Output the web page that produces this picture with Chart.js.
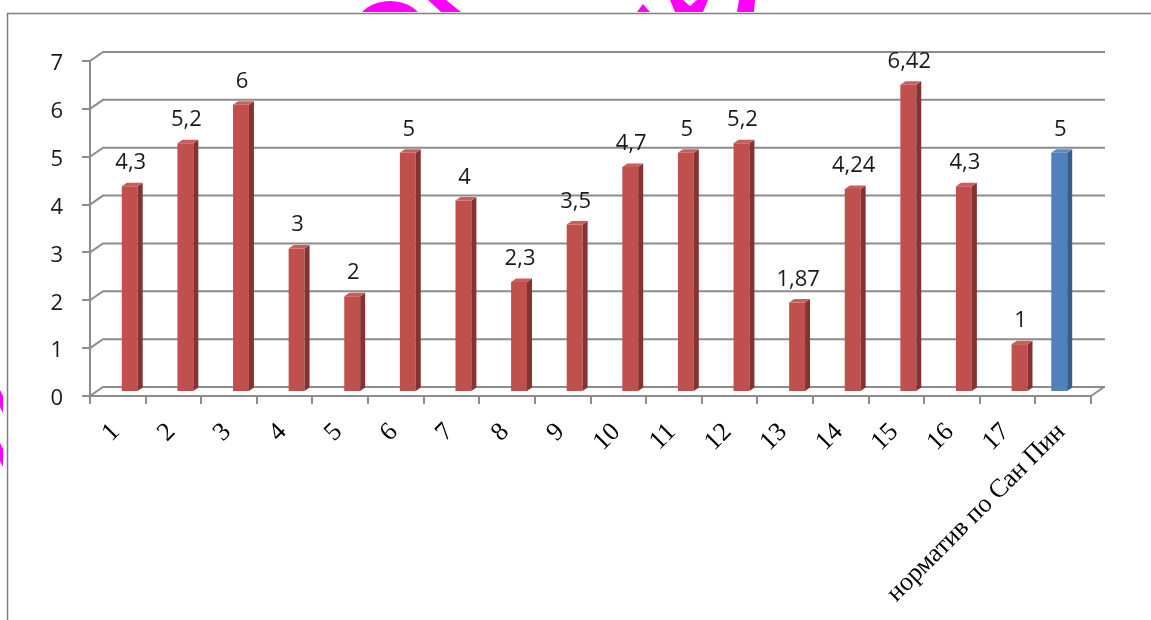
<!DOCTYPE html>
<html>
<head>
<meta charset="utf-8">
<script src="https://cdn.jsdelivr.net/npm/chart.js@4.4.1/dist/chart.umd.min.js"></script>
<style>
  body { margin: 0; background: #fff; }
  canvas { display: block; }
</style>
</head>
<body>
<canvas id="normChart" width="1151" height="620"></canvas>
<script>
var categories = ['1', '2', '3', '4', '5', '6', '7', '8', '9', '10', '11', '12', '13', '14', '15', '16', '17', 'норматив по Сан Пин'];
var sampleValues = [4.3, 5.2, 6, 3, 2, 5, 4, 2.3, 3.5, 4.7, 5, 5.2, 1.87, 4.24, 6.42, 4.3, 1, null];
var normValues = [null, null, null, null, null, null, null, null, null, null, null, null, null, null, null, null, null, 5];
var yTicks = [0, 1, 2, 3, 4, 5, 6, 7];

// depth of the back wall and the shift of the columns into it
var WALL_DX = 13, WALL_DY = 9;
var BAR_DX = 4, BAR_DY = 4;
var SIDE_DX = 5, SIDE_DY = 3.5;
var GRID = '#8c8c8c';

function fmt(v) {
    return String(v).replace('.', ',');
}

var frame3d = {
    id: 'frame3d',
    beforeDraw: function (chart) {
        var ctx = chart.ctx;
        ctx.save();
        ctx.fillStyle = '#fff';
        ctx.fillRect(0, 0, chart.width, chart.height);

        // magenta pieces sticking out above / left of the frame
        ctx.fillStyle = '#ff00ff';
        ctx.save();
        ctx.beginPath();
        ctx.rect(0, 0, chart.width, 12);
        ctx.clip();
        ctx.beginPath();
        ctx.ellipse(390, 23, 32, 22, 0, 0, Math.PI * 2);
        ctx.fill();
        [
            [[428, 0], [446, 0], [461, 12], [441, 12]],
            [[637, 12], [643, 4], [650, 12]],
            [[670, 0], [683, 0], [690, 6], [697, 0], [708, 0], [703, 12], [675, 12]],
            [[739, 0], [755, 0], [754, 12], [737, 12]]
        ].forEach(function (pts) {
            ctx.beginPath();
            ctx.moveTo(pts[0][0], pts[0][1]);
            for (var i = 1; i < pts.length; i++) ctx.lineTo(pts[i][0], pts[i][1]);
            ctx.closePath();
            ctx.fill();
        });
        ctx.restore();
        [[390, 413], [443, 467]].forEach(function (r) {
            ctx.beginPath();
            ctx.moveTo(0, r[0]);
            ctx.lineTo(3, r[0] + 6);
            ctx.lineTo(3, r[1]);
            ctx.lineTo(0, r[1] - 6);
            ctx.closePath();
            ctx.fill();
        });

        // outer frame
        ctx.strokeStyle = '#7f7f7f';
        ctx.lineWidth = 1.5;
        ctx.beginPath();
        ctx.moveTo(7.5, chart.height);
        ctx.lineTo(7.5, 13.5);
        ctx.lineTo(chart.width, 13.5);
        ctx.stroke();
        ctx.restore();
    },
    beforeDatasetsDraw: function (chart) {
        var ctx = chart.ctx, y = chart.scales.y, area = chart.chartArea;
        ctx.save();
        ctx.strokeStyle = GRID;
        ctx.lineWidth = 2;
        yTicks.forEach(function (v) {
            var py = y.getPixelForValue(v);
            ctx.beginPath();
            ctx.moveTo(area.left, py);
            ctx.lineTo(area.left + WALL_DX, py - WALL_DY);
            ctx.lineTo(area.right + WALL_DX + 1, py - WALL_DY);
            ctx.stroke();
        });
        var p0 = y.getPixelForValue(0);
        ctx.beginPath();
        ctx.moveTo(area.right, p0);
        ctx.lineTo(area.right + WALL_DX, p0 - WALL_DY);
        ctx.stroke();
        ctx.restore();

        // columns stand halfway into the depth
        ctx.save();
        ctx.translate(BAR_DX, -BAR_DY);
    },
    afterDatasetsDraw: function (chart) {
        var ctx = chart.ctx;
        chart.data.datasets.forEach(function (ds, di) {
            var meta = chart.getDatasetMeta(di);
            meta.data.forEach(function (bar, i) {
                var v = ds.data[i];
                if (v === null) return;
                var l = bar.x - bar.width / 2, r = bar.x + bar.width / 2;
                var t = bar.y, b = bar.base;
                ctx.fillStyle = ds.sideColor;
                ctx.beginPath();
                ctx.moveTo(r, t);
                ctx.lineTo(r + SIDE_DX, t - SIDE_DY);
                ctx.lineTo(r + SIDE_DX, b - SIDE_DY);
                ctx.lineTo(r, b);
                ctx.closePath();
                ctx.fill();
                ctx.fillStyle = ds.topColor;
                ctx.beginPath();
                ctx.moveTo(l, t);
                ctx.lineTo(l + SIDE_DX, t - SIDE_DY);
                ctx.lineTo(r + SIDE_DX, t - SIDE_DY);
                ctx.lineTo(r, t);
                ctx.closePath();
                ctx.fill();

                ctx.fillStyle = '#1a1a1a';
                ctx.font = '22px "Open Sans"';
                ctx.textAlign = 'center';
                ctx.textBaseline = 'alphabetic';
                ctx.fillText(fmt(v), bar.x + 1, t - 17);
            });
        });
        ctx.restore();
    }
};

var ctx = document.getElementById('normChart');
var chart = new Chart(ctx, {
    type: 'bar',
    data: {
        labels: categories,
        datasets: [{
            label: 'норматив',
            data: normValues,
            backgroundColor: '#4f81bd',
            sideColor: '#375d8c',
            topColor: '#5b8ac4',
            categoryPercentage: 0.572,
            barPercentage: 1
        }, {
            label: 'пробы',
            data: sampleValues,
            backgroundColor: '#c0504d',
            sideColor: '#843331',
            topColor: '#c95e5b',
            categoryPercentage: 0.572,
            barPercentage: 1
        }]
    },
    options: {
        responsive: false,
        animation: false,
        layout: { padding: { left: 0, top: 61, right: 60, bottom: 0 } },
        plugins: {
            legend: { display: false },
            tooltip: { enabled: false }
        },
        scales: {
            x: {
                offset: true,
                grid: { display: true, drawOnChartArea: false, offset: true, color: GRID, lineWidth: 2, tickLength: 8 },
                border: { display: true, color: GRID, width: 2 },
                ticks: {
                    autoSkip: false,
                    minRotation: 45,
                    maxRotation: 45,
                    padding: 13,
                    labelOffset: -2,
                    color: '#000',
                    font: { family: 'Liberation Serif', size: 26 }
                },
                afterFit: function (scale) { scale.height = 224; }
            },
            y: {
                min: yTicks[0],
                max: yTicks[yTicks.length - 1],
                grid: { display: true, drawOnChartArea: false, color: GRID, lineWidth: 2, tickLength: 8 },
                border: { display: true, color: GRID, width: 2 },
                ticks: {
                    stepSize: 1,
                    padding: 19,
                    labelOffset: 3,
                    color: '#1a1a1a',
                    font: { family: 'Open Sans', size: 22 }
                },
                afterFit: function (scale) { scale.width = 90; }
            }
        }
    },
    plugins: [frame3d]
});
</script>
</body>
</html>
